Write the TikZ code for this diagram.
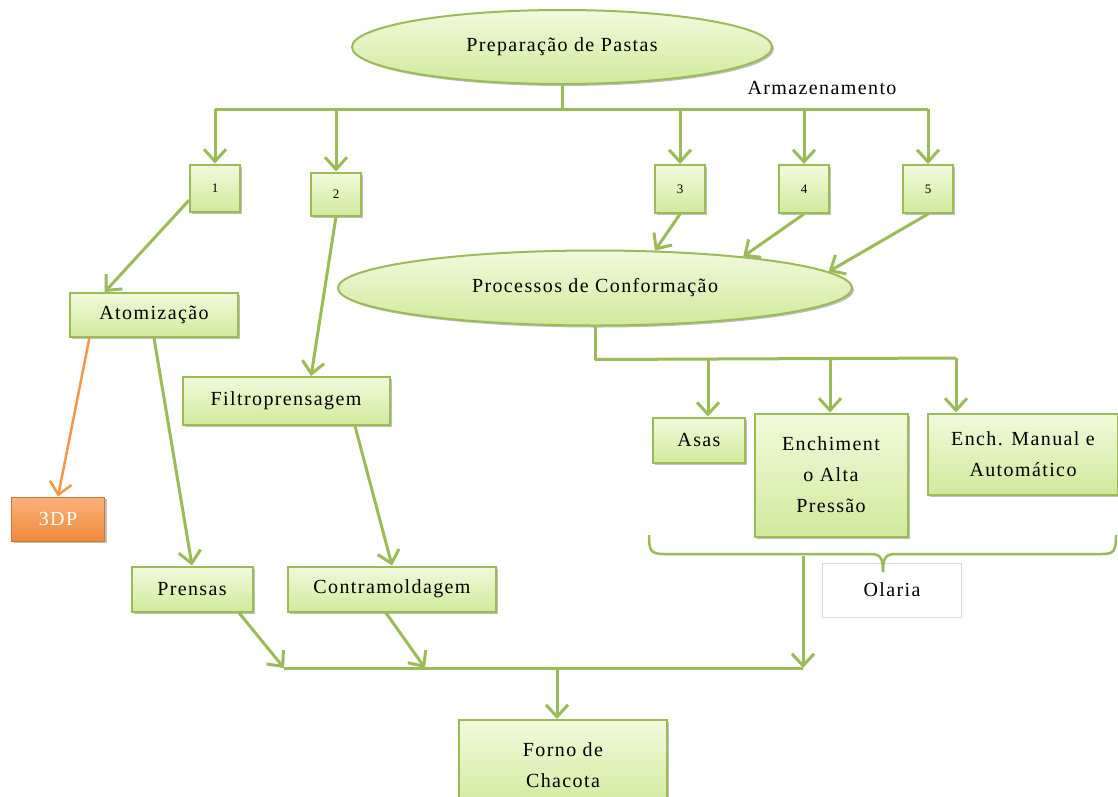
\documentclass[tikz,border=0pt]{standalone}
\usepackage{fontspec}
\setmainfont{Liberation Serif}[LetterSpace=7]
\usetikzlibrary{arrows.meta,shapes.geometric,shadows,calc}
\definecolor{gline}{HTML}{9BBB59}
\definecolor{gtop}{HTML}{F1FADC}
\definecolor{gbot}{HTML}{D0EA9C}
\definecolor{otop}{HTML}{FAB27A}
\definecolor{obot}{HTML}{F08A3C}
\definecolor{oline}{HTML}{F79646}
\definecolor{olbox}{HTML}{D9D9D9}
\tikzset{
  shd/.style={drop shadow={shadow xshift=2pt,shadow yshift=-2pt,opacity=0.25,fill=black}},
  gbox/.style={draw=gline,line width=2pt,top color=gtop,bottom color=gbot,shd,align=center,inner sep=0pt},
  ell/.style={ellipse,draw=gline,line width=2pt,top color=gtop,bottom color=gbot,shd,inner sep=0pt},
  obox/.style={draw=oline!80!black,line width=1pt,top color=otop,bottom color=obot,shd,text=white,inner sep=0pt},
  conn/.style={draw=gline,line width=3pt},
  arr/.style={conn,-{Straight Barb[length=12pt,width=22pt]}},
  oarr/.style={draw=oline,line width=2.5pt,-{Straight Barb[length=12pt,width=22pt]}},
  brace/.style={draw=gline,line width=2.5pt},
  wh/.style 2 args={minimum width=#1pt,minimum height=#2pt},
  num/.style={font=\fontsize{13}{15}\selectfont}
}
\begin{document}
\begin{tikzpicture}[x=1pt,y=-1pt,font=\fontsize{20}{31}\selectfont]
\clip (0,0) rectangle (1118,796);
\fill[white] (0,0) rectangle (1118,796);

% top
\node[ell,wh={420}{74}] (prep) at (562,47) {Preparação de Pastas};
\node (arm) at (822,88) {Armazenamento};

\node[gbox,wh={50}{47},num] (b1) at (215,188) {1};
\node[gbox,wh={50}{43},num] (b2) at (336,194) {2};
\node[gbox,wh={50}{48},num] (b3) at (680,189) {3};
\node[gbox,wh={50}{48},num] (b4) at (804,189) {4};
\node[gbox,wh={50}{48},num] (b5) at (928,189) {5};

\node[ell,wh={514}{75}] (proc) at (595,288) {Processos de Conformação};

\node[gbox,wh={168}{44}] (atom) at (154,315) {Atomização};
\node[gbox,wh={207}{48}] (filt) at (286,401) {Filtroprensagem};
\node[obox,wh={93}{44}] (dp) at (58,519) {3DP};
\node[gbox,wh={121}{45}] (pren) at (192,589) {Prensas};
\node[gbox,wh={208}{45}] (contra) at (392,589) {Contramoldagem};

\node[gbox,wh={92}{45}] (asas) at (699,440) {Asas};
\node[gbox,wh={153}{123}] (ench) at (831,475) {Enchiment\\o Alta\\Pressão};
\node[gbox,wh={190}{81}] (man) at (1023,454) {Ench. Manual e\\Automático};
\node[draw=olbox,line width=1pt,fill=white,wh={139}{54}] (ol) at (892,590) {Olaria};

\node[gbox,wh={208}{90}] (forno) at (563,765) {Forno de\\Chacota};

% top distribution
\draw[conn] (prep.south) -- ++(0,24) coordinate (hub);
\draw[conn] (b1 |- hub) -- (b5 |- hub);
\foreach \b in {b1,b2,b3,b4,b5}{\draw[arr] (\b |- hub) -- (\b.north);}

% into Processos
\draw[arr] (b3.south) -- (proc.32);
\draw[arr] (b4.south) -- (proc.12);
\draw[arr] (b5.south) -- (proc.4);

% left branch
\draw[arr] ($(b1.south west)!0.5!(b1.west)$) -- ($(atom.north west)!0.21!(atom.north east)$);
\draw[arr] (b2.south) -- ($(filt.north west)!0.62!(filt.north east)$);
\draw[oarr] ($(atom.south west)!0.12!(atom.south east)$) -- (dp.north);
\draw[arr] (atom.south) -- (pren.north);
\draw[arr] ($(filt.south west)!0.83!(filt.south east)$) -- (contra.north);

% Processos distribution
\draw[conn] (proc.south) -- ++(0,33) coordinate (phub);
\coordinate (pa) at (708,358);
\coordinate (pb) at (830,358);
\coordinate (pc) at (956,358);
\draw[conn] (phub) -- (pc);
\draw[arr] (pa) -- (pa |- asas.north);
\draw[arr] (pb) -- (pb |- ench.north);
\draw[arr] (pc) -- (pc |- man.north);

% brace (Olaria)
\draw[brace] (649,535) .. controls (649,551) and (651,554) .. (664,554)
  -- (870,554) .. controls (880,554) and (883,557) .. (883,572);
\draw[brace] (883,572) .. controls (883,557) and (886,554) .. (896,554)
  -- (1102,554) .. controls (1114,554) and (1116,551) .. (1116,535);

% bottom collection
\coordinate (bl) at (284,668);
\coordinate (cj) at (425,668);
\coordinate (fj) at (557,668);
\coordinate (bj) at (803,556);
\coordinate (br) at (803,668);
\draw[conn] (bl) -- (br);
\draw[arr] ($(pren.south west)!0.88!(pren.south east)$) -- (bl);
\draw[arr] ($(contra.south west)!0.47!(contra.south east)$) -- (cj);
\draw[arr] (bj) -- (br);
\draw[arr] (fj) -- (fj |- forno.north);
\end{tikzpicture}
\end{document}
